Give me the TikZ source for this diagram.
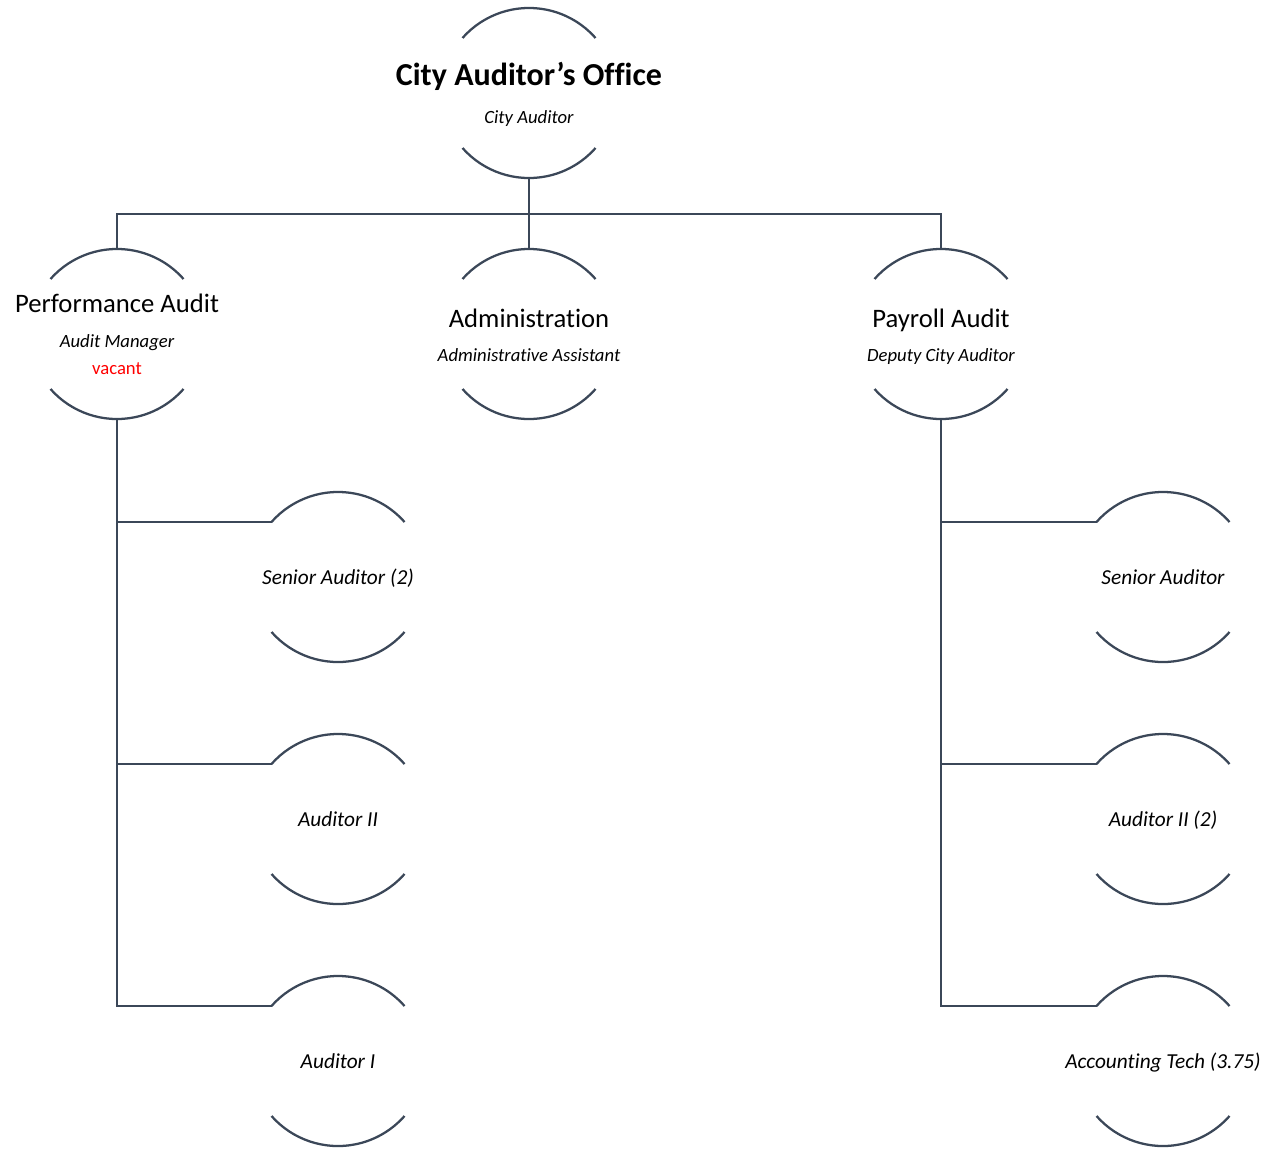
\documentclass[tikz,border=0pt]{standalone}
\usepackage{fontspec}
\setmainfont{Carlito}[Ligatures=NoCommon]
\definecolor{linec}{HTML}{3B4758}
\definecolor{vac}{HTML}{FF0000}
\tikzset{
  arcline/.style={draw=linec, line width=1.7pt},
  conn/.style={draw=linec, line width=1.7pt},
  unit/.style={shape=rectangle, inner sep=0pt, minimum width=99.75pt, minimum height=127.5pt},
  txt/.style={anchor=base, inner sep=0pt, text=black},
  titlet/.style={txt, font=\fontsize{24}{28}\selectfont\bfseries},
  headt/.style={txt, font=\fontsize{20}{24}\selectfont},
  rolet/.style={txt, font=\fontsize{14}{17}\selectfont\itshape},
  vact/.style={txt, font=\fontsize{14}{17}\selectfont, text=vac},
  jobt/.style={txt, font=\fontsize{16}{19}\selectfont\itshape},
}
\newcommand\unitarcs[1]{%
  \draw[arcline] ([xshift=-49.875pt,yshift=41.25pt]#1.center) arc[start angle=138.6,end angle=41.4,radius=66.5pt];
  \draw[arcline] ([xshift=-49.875pt,yshift=-41.25pt]#1.center) arc[start angle=221.4,end angle=318.6,radius=66.5pt];}
\begin{document}
\begin{tikzpicture}[x=0.75pt,y=-0.75pt]
\useasboundingbox (0,0) rectangle (1267,1153);
% unit frames
\node[unit] (ca) at (529,93) {};
\node[unit] (pa) at (117,334) {};
\node[unit] (ad) at (529,334) {};
\node[unit] (py) at (941,334) {};
\node[unit] (sa) at (338,577) {};
\node[unit] (a2) at (338,819) {};
\node[unit] (a1) at (338,1061) {};
\node[unit] (ps) at (1163,577) {};
\node[unit] (p2) at (1163,819) {};
\node[unit] (pt) at (1163,1061) {};
\foreach \n in {ca,pa,ad,py,sa,a2,a1,ps,p2,pt} {\unitarcs{\n}}
% texts
\node[titlet] (ca-t) at (529,85) {City Auditor’s Office};
\node[rolet] (ca-r) at (529,123) {City Auditor};
\node[headt] (pa-t) at (117,312) {Performance Audit};
\node[rolet] (pa-r) at (117,347) {Audit Manager};
\node[vact] (pa-v) at (117,374) {vacant};
\node[headt] (ad-t) at (529,327) {Administration};
\node[rolet] (ad-r) at (529,361) {Administrative Assistant};
\node[headt] (py-t) at (941,327) {Payroll Audit};
\node[rolet] (py-r) at (941,361) {Deputy City Auditor};
\node[jobt] (sa-t) at (338,584) {Senior Auditor (2)};
\node[jobt] (a2-t) at (338,826) {Auditor II};
\node[jobt] (a1-t) at (338,1068) {Auditor I};
\node[jobt] (ps-t) at (1163,584) {Senior Auditor};
\node[jobt] (p2-t) at (1163,826) {Auditor II (2)};
\node[jobt] (pt-t) at (1163,1068) {Accounting Tech (3.75)};
% connectors
\coordinate (bus) at (529,214);
\draw[conn] ([yshift=-63.75pt]ca.center) -- (bus);
\draw[conn] ([yshift=63.75pt]pa.center) |- (bus);
\draw[conn] ([yshift=63.75pt]py.center) |- (bus);
\draw[conn] ([yshift=63.75pt]ad.center) -- (bus);
\foreach \c in {sa,a2,a1} {
  \draw[conn] ([yshift=-63.75pt]pa.center) |- ([xshift=-49.875pt,yshift=41.25pt]\c.center);
}
\foreach \c in {ps,p2,pt} {
  \draw[conn] ([yshift=-63.75pt]py.center) |- ([xshift=-49.875pt,yshift=41.25pt]\c.center);
}
\end{tikzpicture}
\end{document}
